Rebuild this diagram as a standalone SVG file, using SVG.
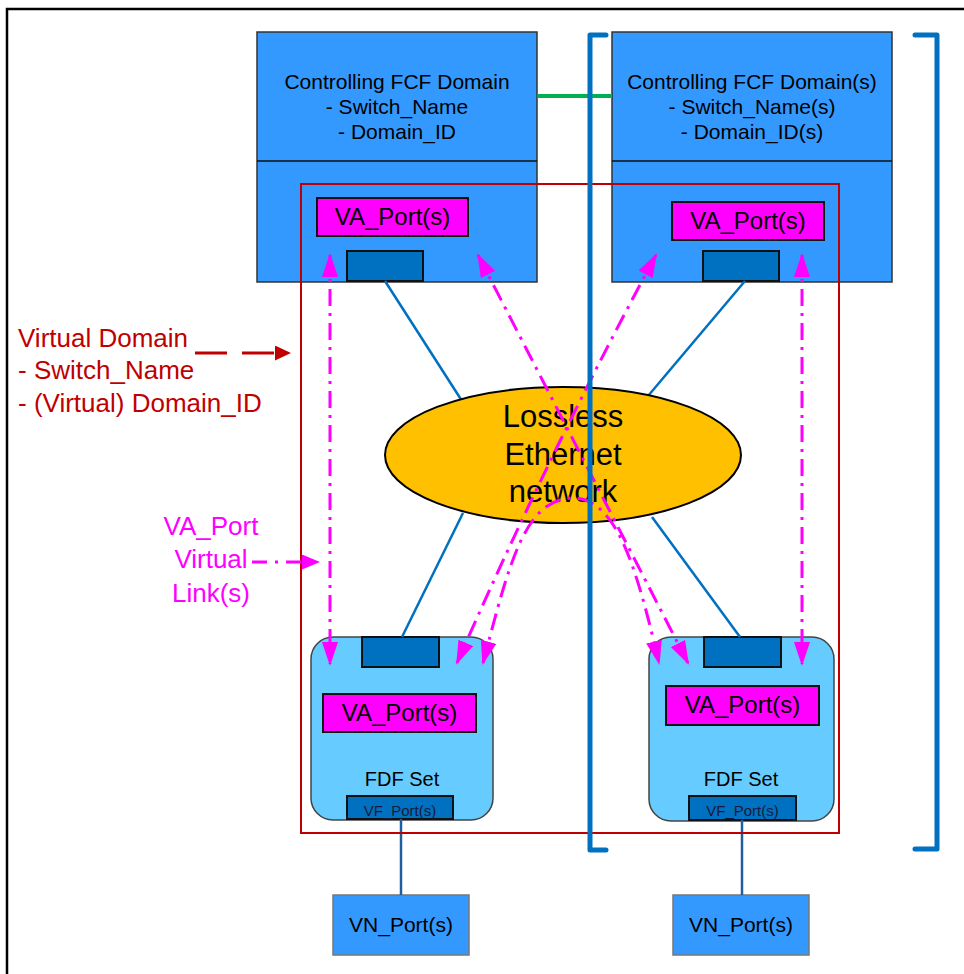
<svg xmlns="http://www.w3.org/2000/svg" width="964" height="974" viewBox="0 0 964 974">
<style>
text{font-family:"Liberation Sans",Arial,sans-serif;text-anchor:middle}
.blk{fill:#3399ff;stroke:#333;stroke-width:1.5}
.port{fill:#0070c0;stroke:#111;stroke-width:2}
.va{fill:#ff00ff;stroke:#111;stroke-width:2}
.fdf{fill:#66ccff;stroke:#444;stroke-width:1.5}
.lnk{stroke:#0070c0;stroke-width:2.5;fill:none}
.vl{stroke:#ff00ff;stroke-width:3;fill:none;stroke-dasharray:17 7 3 7}
.t21{font-size:21px;fill:#000}
.t24{font-size:24px;fill:#000}
.red{font-size:26px;fill:#c00000;text-anchor:start}
.mag{font-size:26px;fill:#ff00ff}
</style>
<defs>
<marker id="mA" markerUnits="userSpaceOnUse" viewBox="0 0 24 16" refX="22" refY="8" markerWidth="24" markerHeight="16" orient="auto-start-reverse"><path d="M0,0 L24,8 L0,16 z" fill="#ff00ff"/></marker>
<marker id="mS" markerUnits="userSpaceOnUse" viewBox="0 0 18 15" refX="0" refY="7.5" markerWidth="18" markerHeight="15" orient="auto"><path d="M0,0 L18,7.5 L0,15 z" fill="#ff00ff"/></marker>
<marker id="mR" markerUnits="userSpaceOnUse" viewBox="0 0 16 15" refX="0" refY="7.5" markerWidth="16" markerHeight="15" orient="auto"><path d="M0,0 L16,7.5 L0,15 z" fill="#c00000"/></marker>
</defs>
<rect x="0" y="0" width="964" height="974" fill="#fff"/>
<rect x="7" y="9" width="980" height="990" fill="none" stroke="#000" stroke-width="2.5"/>

<g id="fcf-left">
<rect class="blk" x="257" y="32" width="280" height="250"/>
<line x1="257" y1="161" x2="537" y2="161" stroke="#111" stroke-width="1.5"/>
<text class="t21" x="397" y="89">Controlling FCF Domain</text>
<text class="t21" x="397" y="114">- Switch_Name</text>
<text class="t21" x="397" y="139">- Domain_ID</text>
<rect class="va" x="317" y="198" width="151" height="38"/>
<text class="t24" x="392.5" y="225">VA_Port(s)</text>
<rect class="port" x="347" y="251" width="76" height="30"/>
</g>

<g id="fcf-right">
<rect class="blk" x="612" y="32" width="280" height="250"/>
<line x1="612" y1="161" x2="892" y2="161" stroke="#111" stroke-width="1.5"/>
<text class="t21" x="752" y="89">Controlling FCF Domain(s)</text>
<text class="t21" x="752" y="114">- Switch_Name(s)</text>
<text class="t21" x="752" y="139">- Domain_ID(s)</text>
<rect class="va" x="672" y="202" width="152" height="38"/>
<text class="t24" x="748" y="229">VA_Port(s)</text>
<rect class="port" x="703" y="251" width="76" height="30"/>
</g>

<g id="fdf-left">
<rect class="fdf" x="311" y="637" width="182" height="183" rx="22"/>
<rect class="port" x="362" y="637" width="77" height="30"/>
<rect class="va" x="323" y="694" width="153" height="38"/>
<text class="t24" x="399.5" y="721">VA_Port(s)</text>
<text x="402" y="786" style="font-size:20px;fill:#000">FDF Set</text>
<rect class="port" x="347" y="796" width="106" height="23"/>
<text x="400" y="816" style="font-size:15px;fill:#1a1a3a">VF_Port(s)</text>
</g>

<g id="fdf-right">
<rect class="fdf" x="649" y="637" width="185" height="184" rx="22"/>
<rect class="port" x="704" y="637" width="77" height="30"/>
<rect class="va" x="666" y="686" width="153" height="39"/>
<text class="t24" x="742.5" y="713">VA_Port(s)</text>
<text x="741" y="786" style="font-size:20px;fill:#000">FDF Set</text>
<rect class="port" x="689" y="796" width="107" height="24"/>
<text x="742.5" y="816" style="font-size:15px;fill:#1a1a3a">VF_Port(s)</text>
</g>

<g id="vn-left">
<rect class="blk" x="333" y="895" width="136" height="60" style="stroke:#777"/>
<text class="t21" x="401" y="932">VN_Port(s)</text>
</g>
<g id="vn-right">
<rect class="blk" x="673" y="895" width="136" height="60" style="stroke:#777"/>
<text class="t21" x="741" y="932">VN_Port(s)</text>
</g>

<g id="connectors">
<line x1="537" y1="96" x2="612" y2="96" stroke="#00b050" stroke-width="4"/>
<line class="lnk" x1="385" y1="281" x2="462" y2="401"/>
<line class="lnk" x1="745" y1="281" x2="648" y2="396"/>
<line class="lnk" x1="463" y1="513" x2="402" y2="637"/>
<line class="lnk" x1="652" y1="517" x2="740" y2="637"/>
<line x1="401" y1="819" x2="401" y2="895" stroke="#1f5f9f" stroke-width="2.5"/>
<line x1="742" y1="820" x2="742" y2="895" stroke="#1f5f9f" stroke-width="2.5"/>
</g>

<g id="ethernet">
<ellipse cx="563" cy="455" rx="178" ry="68" fill="#ffc000" stroke="#000" stroke-width="2"/>
<text x="563" y="427" style="font-size:31px;fill:#000">Lossless</text>
<text x="563" y="465" style="font-size:31px;fill:#000">Ethernet</text>
<text x="563" y="502" style="font-size:31px;fill:#000">network</text>
</g>

<g id="virtual-links">
<path class="vl" d="M330,255 L330,664" marker-start="url(#mA)" marker-end="url(#mA)"/>
<path class="vl" d="M802,255 L802,664" marker-start="url(#mA)" marker-end="url(#mA)"/>
<path class="vl" d="M478,255 L688,663" marker-start="url(#mA)" marker-end="url(#mA)"/>
<path class="vl" d="M656,255 Q548,455 457,663" marker-start="url(#mA)" marker-end="url(#mA)"/>
<path class="vl" d="M483,663 C510,560 525,500 572,498 C615,498 635,560 659,663" marker-start="url(#mA)" marker-end="url(#mA)"/>
</g>

<g id="virtual-domain">
<rect x="301" y="184" width="538" height="649" fill="none" stroke="#c00000" stroke-width="2"/>
</g>

<g id="bracket">
<path d="M606,35 L590,35 L590,850 L606,850" fill="none" stroke="#0070c0" stroke-width="5" stroke-linecap="round" stroke-linejoin="round"/>
<path d="M915,35 L937,35 L937,849 L915,849" fill="none" stroke="#0070c0" stroke-width="5" stroke-linecap="round" stroke-linejoin="round"/>
</g>

<g id="legend-domain">
<text class="red" x="18" y="347">Virtual Domain</text>
<text class="red" x="18" y="379">- Switch_Name</text>
<text class="red" x="18" y="412">- (Virtual) Domain_ID</text>
<path d="M195,353 L275,353" stroke="#c00000" stroke-width="3" stroke-dasharray="32 15" fill="none" marker-end="url(#mR)"/>
</g>

<g id="legend-link">
<text class="mag" x="211" y="535">VA_Port</text>
<text class="mag" x="211" y="568">Virtual</text>
<text class="mag" x="211" y="602">Link(s)</text>
<path d="M252,562 L302,562" stroke="#ff00ff" stroke-width="3" stroke-dasharray="15 8 3 8" fill="none" marker-end="url(#mS)"/>
</g>
</svg>
